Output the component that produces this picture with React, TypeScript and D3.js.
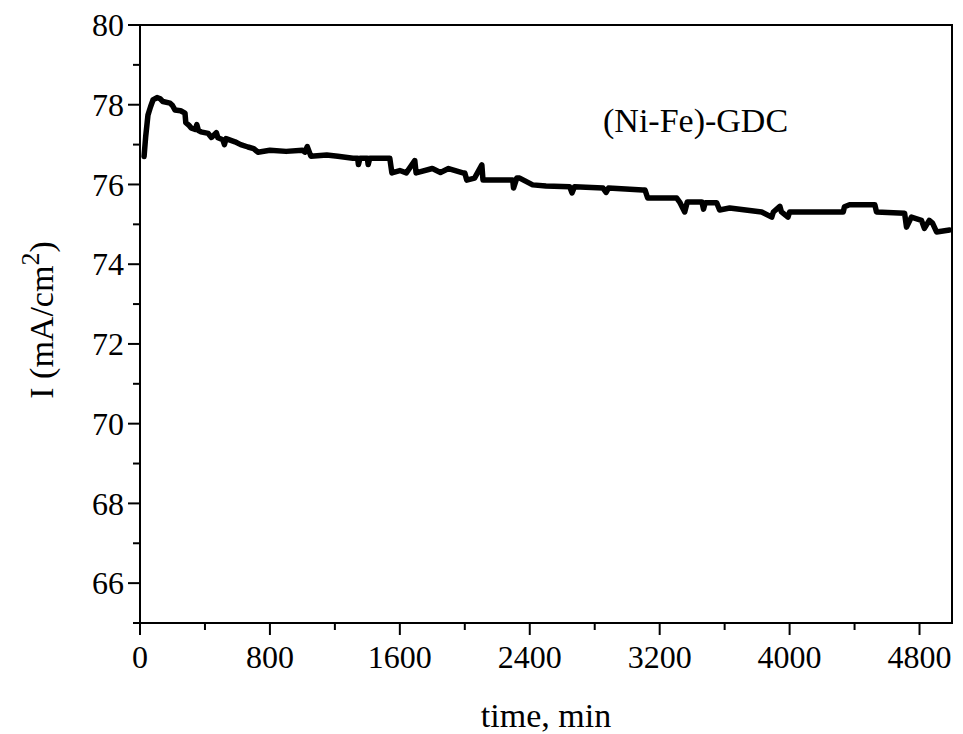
import React from "react";
import * as d3 from "d3";

const seriesTime: number[] = [25,35,49,65,80,105,125,141,185,200,215,250,277,282,300,314,340,350,360,375,420,440,470,480,510,520,530,585,620,665,700,726,800,900,1000,1015,1030,1052,1150,1218,1311,1340,1345,1355,1400,1405,1415,1538,1551,1600,1640,1692,1700,1800,1850,1900,1988,2000,2012,2060,2105,2112,2200,2295,2300,2320,2338,2418,2500,2646,2660,2675,2851,2870,2885,3095,3110,3126,3200,3305,3323,3354,3370,3460,3470,3480,3551,3569,3631,3828,3890,3900,3940,3950,3990,4000,4308,4330,4338,4369,4511,4525,4535,4708,4720,4750,4812,4830,4860,4880,4905,4985];
const seriesCurrent: number[] = [76.70,77.2,77.74,77.95,78.12,78.18,78.15,78.08,78.04,77.98,77.87,77.85,77.79,77.55,77.49,77.42,77.38,77.5,77.35,77.32,77.28,77.18,77.3,77.17,77.12,77.0,77.15,77.07,77.0,76.94,76.9,76.81,76.86,76.83,76.86,76.81,76.95,76.71,76.74,76.71,76.66,76.66,76.5,76.66,76.66,76.5,76.66,76.66,76.29,76.35,76.29,76.6,76.29,76.4,76.3,76.4,76.29,76.29,76.11,76.16,76.49,76.11,76.11,76.11,75.91,76.16,76.16,75.99,75.96,75.94,75.79,75.94,75.91,75.8,75.91,75.86,75.86,75.66,75.66,75.66,75.56,75.31,75.56,75.56,75.38,75.54,75.54,75.36,75.41,75.31,75.18,75.31,75.45,75.31,75.18,75.31,75.31,75.31,75.44,75.49,75.49,75.49,75.31,75.28,74.93,75.18,75.1,74.9,75.1,75.03,74.81,74.86];

const xMajorTicks: number[] = [0, 800, 1600, 2400, 3200, 4000, 4800];
const xMinorTicks: number[] = [400, 1200, 2000, 2800, 3600, 4400];
const yMajorTicks: number[] = [66, 68, 70, 72, 74, 76, 78, 80];
const yMinorTicks: number[] = [65, 67, 69, 71, 73, 75, 77, 79];

const sampleLabel = "(Ni-Fe)-GDC";
const xLabel = "time, min";

export default function App() {
  const W = 963, H = 734;
  const left = 140, right = 952, top = 25, bottom = 623;
  const x = d3.scaleLinear().domain([0, 5000]).range([left, right]);
  const y = d3.scaleLinear().domain([65, 80]).range([bottom, top]);
  const data = seriesTime.map((t, i) => [t, seriesCurrent[i]] as [number, number]);
  const line = d3.line<[number, number]>().x(d => x(d[0])).y(d => y(d[1]));
  const font = "'Liberation Serif', 'Times New Roman', serif";
  return (
    <svg width={W} height={H} style={{ position: "absolute", left: 0, top: 0, background: "#fff" }}>
      <rect x={0} y={0} width={W} height={H} fill="#fff" />
      <path d={line(data) || ""} fill="none" stroke="#000" strokeWidth={5.5} strokeLinejoin="round" strokeLinecap="round" />
      <rect x={left} y={top} width={right - left} height={bottom - top} fill="none" stroke="#000" strokeWidth={2} />
      {yMajorTicks.map(v => (
        <g key={"ym" + v}>
          <line x1={left - 12} x2={left} y1={y(v)} y2={y(v)} stroke="#000" strokeWidth={2} />
          <text x={left - 16} y={y(v)} dy="0.35em" textAnchor="end" fontFamily={font} fontSize={32}>{v}</text>
        </g>
      ))}
      {yMinorTicks.map(v => (
        <line key={"yn" + v} x1={left - 7} x2={left} y1={y(v)} y2={y(v)} stroke="#000" strokeWidth={2} />
      ))}
      {xMajorTicks.map(v => (
        <g key={"xm" + v}>
          <line x1={x(v)} x2={x(v)} y1={bottom} y2={bottom + 12} stroke="#000" strokeWidth={2} />
          <text x={x(v)} y={668} textAnchor="middle" fontFamily={font} fontSize={32}>{v}</text>
        </g>
      ))}
      {xMinorTicks.map(v => (
        <line key={"xn" + v} x1={x(v)} x2={x(v)} y1={bottom} y2={bottom + 7} stroke="#000" strokeWidth={2} />
      ))}
      <text x={546} y={727} textAnchor="middle" fontFamily={font} fontSize={34}>{xLabel}</text>
      <text transform="translate(53,320) rotate(-90)" textAnchor="middle" fontFamily={font} fontSize={34}>
        I (mA/cm<tspan dy="-14" fontSize={26}>2</tspan><tspan dy="14">)</tspan>
      </text>
      <text x={603} y={132} fontFamily={font} fontSize={34}>{sampleLabel}</text>
    </svg>
  );
}
